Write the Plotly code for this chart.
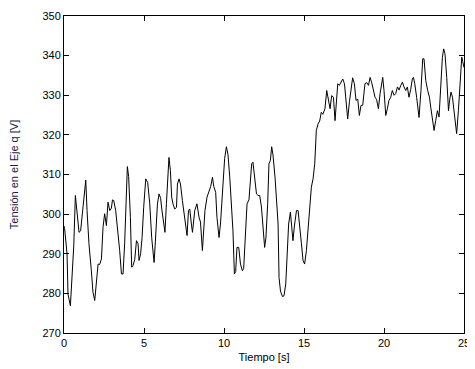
import plotly.graph_objects as go

# Time [s]
tiempo = [0.0, 0.04, 0.19, 0.25, 0.40, 0.53, 0.61, 0.71, 0.81, 0.94, 1.04, 1.15, 1.28, 1.36, 1.44, 1.56, 1.71, 1.81, 1.92,
          2.03, 2.13, 2.23, 2.34, 2.44, 2.54, 2.65, 2.75, 2.86, 2.96, 3.03, 3.11, 3.23, 3.38, 3.48, 3.59, 3.69, 3.79, 3.90,
          3.96, 4.04, 4.15, 4.23, 4.31, 4.42, 4.53, 4.63, 4.69, 4.79, 4.88, 4.98, 5.11, 5.23, 5.36, 5.48, 5.63, 5.71, 5.84,
          5.94, 6.04, 6.11, 6.23, 6.31, 6.40, 6.50, 6.56, 6.65, 6.73, 6.81, 6.92, 7.03, 7.09, 7.19, 7.28, 7.40, 7.48, 7.61,
          7.69, 7.78, 7.86, 7.96, 8.03, 8.17, 8.31, 8.44, 8.53, 8.65, 8.73, 8.81, 8.94, 9.06, 9.17, 9.28, 9.36, 9.48, 9.56,
          9.69, 9.78, 9.86, 9.94, 10.04, 10.15, 10.25, 10.36, 10.46, 10.56, 10.65, 10.73, 10.81, 10.92, 11.03, 11.15, 11.23,
          11.34, 11.44, 11.56, 11.65, 11.73, 11.81, 11.92, 12.03, 12.13, 12.23, 12.34, 12.44, 12.54, 12.62, 12.73, 12.81,
          12.90, 12.98, 13.06, 13.19, 13.29, 13.38, 13.44, 13.53, 13.65, 13.75, 13.86, 13.94, 14.04, 14.15, 14.23, 14.31,
          14.40, 14.53, 14.63, 14.73, 14.84, 14.94, 15.04, 15.15, 15.25, 15.36, 15.46, 15.57, 15.67, 15.77, 15.88, 15.98,
          16.08, 16.18, 16.31, 16.42, 16.53, 16.63, 16.73, 16.84, 16.94, 17.04, 17.11, 17.21, 17.31, 17.42, 17.53, 17.63,
          17.73, 17.84, 17.94, 18.04, 18.15, 18.25, 18.36, 18.46, 18.56, 18.67, 18.81, 18.92, 19.03, 19.13, 19.23, 19.34,
          19.44, 19.54, 19.65, 19.75, 19.86, 19.92, 20.00, 20.11, 20.21, 20.31, 20.42, 20.52, 20.63, 20.73, 20.84, 20.94,
          21.04, 21.15, 21.25, 21.36, 21.46, 21.56, 21.67, 21.77, 21.84, 21.92, 22.04, 22.19, 22.31, 22.42, 22.50, 22.61,
          22.73, 22.84, 22.92, 23.03, 23.13, 23.23, 23.34, 23.44, 23.54, 23.65, 23.73, 23.81, 23.92, 24.03, 24.11, 24.19,
          24.28, 24.38, 24.48, 24.54, 24.65, 24.75, 24.86, 24.92, 25.0]

# Voltage on the q axis [V]
tension_q = [297.0, 296.3, 290.0, 279.8, 276.9, 286.6, 292.0, 304.7, 300.9, 295.4, 295.8, 300.9, 305.9, 308.6, 300.9, 292.5,
             285.7, 280.3, 278.2, 284.0, 287.4, 287.3, 288.7, 296.7, 300.1, 297.1, 303.0, 300.9, 301.5, 303.6, 303.4, 300.9,
             295.8, 290.8, 284.9, 284.9, 292.5, 306.8, 312.0, 309.5, 299.2, 286.6, 287.0, 288.5, 293.3, 292.5, 288.3, 290.0,
             294.1, 301.7, 308.9, 308.0, 302.6, 294.1, 287.8, 293.0, 302.6, 305.1, 304.0, 301.3, 297.5, 295.4, 302.6, 311.8,
             314.3, 311.0, 304.3, 302.6, 301.3, 301.7, 307.6, 308.9, 307.6, 303.4, 301.0, 297.5, 294.6, 300.9, 301.3, 297.5,
             295.4, 300.9, 302.6, 299.2, 298.0, 290.8, 296.0, 300.9, 304.3, 305.9, 307.0, 309.3, 307.0, 305.5, 299.2, 294.1,
             297.5, 302.6, 308.5, 314.0, 317.0, 315.0, 309.3, 303.0, 295.8, 284.9, 285.5, 291.6, 291.6, 287.4, 285.7, 286.3,
             296.7, 302.6, 303.6, 307.6, 312.7, 313.1, 309.0, 305.1, 304.7, 304.7, 301.8, 295.8, 291.6, 294.0, 302.6, 312.7,
             313.6, 317.0, 315.0, 309.3, 303.5, 297.5, 284.0, 280.6, 279.2, 279.4, 282.4, 290.8, 297.5, 300.5, 297.5, 293.3,
             297.0, 300.9, 300.9, 297.5, 292.5, 288.3, 287.4, 290.8, 295.8, 300.9, 306.8, 309.0, 312.7, 321.1, 322.8, 323.5,
             325.7, 325.2, 326.6, 331.2, 328.7, 326.6, 329.9, 329.5, 323.6, 328.5, 332.9, 332.5, 333.2, 334.1, 332.9, 328.7,
             324.0, 328.4, 332.0, 334.4, 332.9, 328.7, 329.0, 324.9, 327.4, 327.5, 332.9, 333.2, 332.5, 334.5, 333.2, 330.9,
             329.5, 328.9, 326.6, 330.3, 333.7, 334.5, 331.2, 324.9, 326.6, 328.7, 329.5, 331.2, 330.0, 330.4, 332.1, 331.3,
             332.4, 333.3, 332.1, 331.2, 332.1, 329.5, 331.5, 334.1, 334.5, 333.0, 329.5, 324.4, 331.2, 339.2, 339.2, 333.7,
             331.2, 329.5, 327.0, 323.6, 321.1, 323.6, 326.1, 324.5, 332.9, 339.6, 341.7, 340.5, 334.5, 326.1, 329.0, 330.8,
             329.5, 326.1, 321.9, 320.3, 326.1, 332.9, 339.6, 338.5, 337.0]

x_ticks = [0, 5, 10, 15, 20, 25]
y_ticks = [270, 280, 290, 300, 310, 320, 330, 340, 350]

fig = go.Figure()
fig.add_trace(go.Scatter(x=tiempo, y=tension_q, mode="lines",
                         line=dict(color="black", width=1), showlegend=False))

font = dict(family="Liberation Sans, Arial, sans-serif", size=11, color="#000000")
axis_common = dict(showline=True, linecolor="black", linewidth=1, mirror="ticks",
                   ticks="inside", ticklen=5, tickcolor="black", showgrid=False,
                   zeroline=False, tickfont=font, automargin=False)

fig.update_xaxes(range=[0, 25], tickvals=x_ticks, ticktext=[str(v) for v in x_ticks],
                 title=dict(text="Tiempo [s]", font=font, standoff=5), **axis_common)
fig.update_yaxes(range=[270, 350], tickvals=y_ticks, ticktext=[str(v) for v in y_ticks],
                 title=dict(text="Tensión en el Eje q [V]", font=dict(family=font["family"], size=11, color="#1a1a40"),
                            standoff=29), **axis_common)

fig.update_layout(width=467, height=361, margin=dict(l=56, r=11, t=8, b=36),
                  paper_bgcolor="white", plot_bgcolor="white")

fig.write_html("out.html")
